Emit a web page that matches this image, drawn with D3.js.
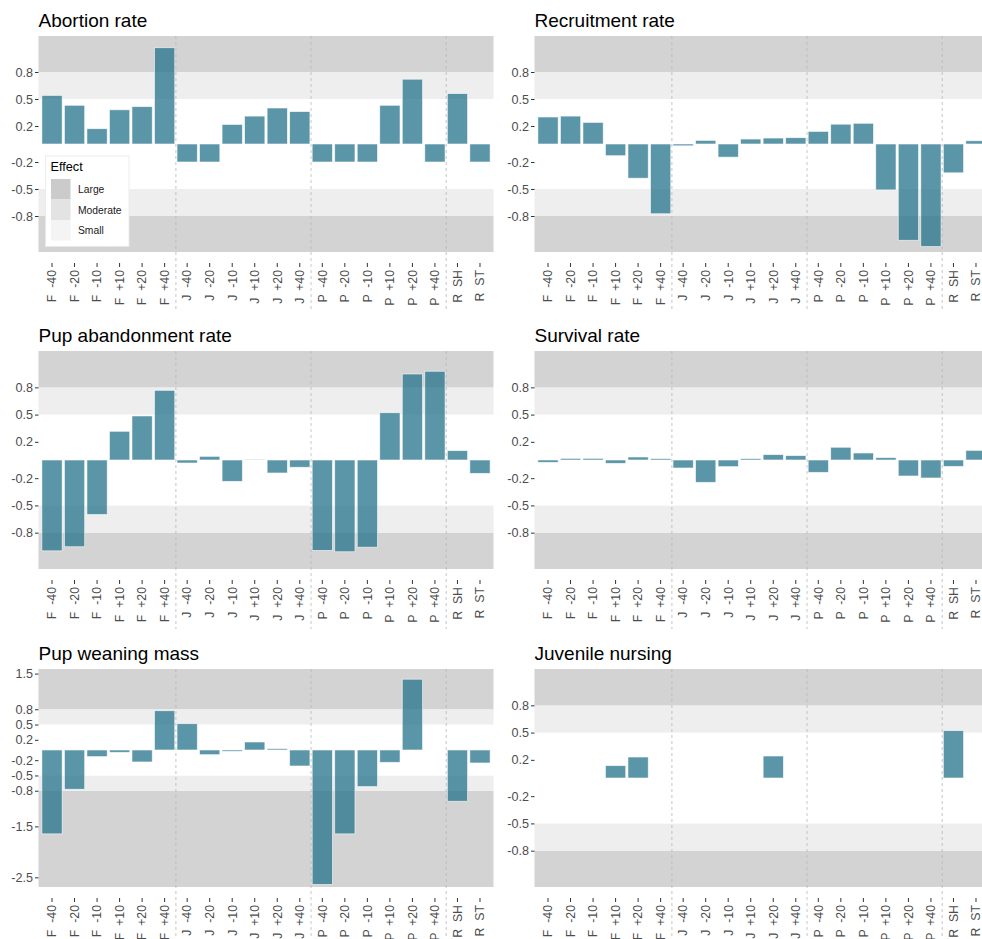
<!DOCTYPE html>
<html lang="en">
  <head>
    <meta charset="UTF-8" />
    <title>Effect sizes</title>
    <style>
        body { margin: 0; background: #fff; }
        svg { display: block; font-family: "Liberation Sans", Arial, sans-serif; }
        .yAxis line, .xAxis line { stroke: #333; }
        .title { font-size: 19px; fill: #000; }
    </style>
    <script src="https://d3js.org/d3.v7.min.js"></script>
  </head>
  <body>
    <div id="chart"></div>
    <script>
        // categories on the x axis
        const categories = ["F -40","F -20","F -10","F +10","F +20","F +40",
                            "J -40","J -20","J -10","J +10","J +20","J +40",
                            "P -40","P -20","P -10","P +10","P +20","P +40",
                            "R SH","R ST"];

        // values (null = no bar)
        const abortion    = [0.54, 0.43, 0.17, 0.38, 0.415, 1.07, -0.2, -0.2, 0.217, 0.31, 0.40, 0.36,
                             -0.2, -0.2, -0.2, 0.43, 0.72, -0.2, 0.56, -0.2];
        const recruitment = [0.30, 0.31, 0.24, -0.13, -0.38, -0.775, -0.02, 0.04, -0.146, 0.055, 0.066, 0.07,
                             0.14, 0.22, 0.23, -0.51, -1.07, -1.14, -0.32, 0.036];
        const abandonment = [-1.0, -0.955, -0.60, 0.316, 0.485, 0.767, -0.033, 0.04, -0.235, 0.004, -0.143, -0.08,
                             -0.995, -1.01, -0.96, 0.52, 0.947, 0.977, 0.103, -0.147];
        const survival    = [-0.026, 0.018, 0.018, -0.037, 0.033, 0.015, -0.088, -0.246, -0.073, 0.015, 0.059, 0.048,
                             -0.136, 0.14, 0.077, 0.026, -0.176, -0.198, -0.07, 0.106];
        const weaning     = [-1.647, -0.771, -0.13, -0.046, -0.235, 0.771, 0.516, -0.092, -0.026, 0.157, 0.026, -0.314,
                             -2.64, -1.647, -0.719, -0.242, 1.39, null, -1.007, -0.255];
        const nursing     = [null, null, null, 0.136, 0.231, null, null, null, null, null, 0.242, null,
                             null, null, null, null, null, null, 0.521, null];

        const titles = ["Abortion rate", "Recruitment rate", "Pup abandonment rate",
                        "Survival rate", "Pup weaning mass", "Juvenile nursing"];
        const series = [abortion, recruitment, abandonment, survival, weaning, nursing];

        const stdTicks = [-0.8, -0.5, -0.2, 0.2, 0.5, 0.8];
        const massTicks = [-2.5, -1.5, -0.8, -0.5, -0.2, 0.2, 0.5, 0.8, 1.5];
        const stdDomain = [-1.2, 1.2];
        const massDomain = [-2.69, 1.59];

        // effect bands: Large |d|>0.8, Moderate 0.5..0.8
        const effectNames = ["Large", "Moderate", "Small"];
        const effectFill = {Large: "#d3d3d3", Moderate: "#eeeeee", Small: "#ffffff"};
        const effectKey = {Large: "#cbcbcb", Moderate: "#e3e3e3", Small: "#f4f4f4"};

        const width = 982, height = 939;
        const colX = [38.5, 534.5];
        const panelW = 455;
        const rowY = [36, 351, 669];
        const rowH = [216, 218, 218];

        const svg = d3.select("#chart").append("svg")
            .attr("width", width).attr("height", height);

        series.forEach((vals, i) => {
            const col = i % 2, row = Math.floor(i / 2);
            const x0 = colX[col], y0 = rowY[row], h = rowH[row];
            const isMass = titles[i] === "Pup weaning mass";
            const dom = isMass ? massDomain : stdDomain;
            const ticks = isMass ? massTicks : stdTicks;

            const scaleX = d3.scaleBand().domain(categories)
                .range([x0, x0 + panelW]).paddingInner(0.1).paddingOuter(0.15);
            const scaleY = d3.scaleLinear().domain(dom).range([y0 + h, y0]);

            const g = svg.append("g");

            // bands
            const bands = [
                [dom[0], -0.8, "Large"], [-0.8, -0.5, "Moderate"], [-0.5, 0.5, "Small"],
                [0.5, 0.8, "Moderate"], [0.8, dom[1], "Large"]
            ];
            g.selectAll("rect.band").data(bands).join("rect")
                .attr("class", "band")
                .attr("x", x0).attr("width", panelW)
                .attr("y", d => scaleY(d[1]))
                .attr("height", d => scaleY(d[0]) - scaleY(d[1]))
                .attr("fill", d => effectFill[d[2]]);

            // bars
            const data = categories.map((c, k) => ({c: c, v: vals[k]})).filter(d => d.v !== null);
            g.selectAll("rect.bar").data(data).join("rect")
                .attr("class", "bar")
                .attr("x", d => scaleX(d.c))
                .attr("width", scaleX.bandwidth())
                .attr("y", d => scaleY(Math.max(0, d.v)))
                .attr("height", d => Math.abs(scaleY(d.v) - scaleY(0)))
                .attr("fill", "#24738b")
                .attr("fill-opacity", 0.75)
                .attr("stroke", "#ffffff")
                .attr("stroke-opacity", 0.7)
                .attr("stroke-width", 0.8);

            // group separators
            [5, 11, 17].forEach(k => {
                const xs = (scaleX(categories[k]) + scaleX.bandwidth() + scaleX(categories[k + 1])) / 2;
                g.append("line")
                    .attr("x1", xs).attr("x2", xs)
                    .attr("y1", y0).attr("y2", y0 + h + 60)
                    .attr("stroke", "#b8b8b8")
                    .attr("stroke-width", 0.8)
                    .attr("stroke-dasharray", "3,3");
            });

            // y axis
            const axisY = d3.axisLeft(scaleY).tickValues(ticks)
                .tickSize(3.5).tickPadding(2).tickFormat(d => d.toFixed(1));
            const gY = svg.append("g").attr("class", "yAxis")
                .attr("transform", `translate(${x0},0)`).call(axisY);
            gY.select(".domain").remove();
            gY.selectAll("text")
                .style("font-size", "12.6px")
                .style("fill", "#4d4d4d");

            // x axis
            const axisX = d3.axisBottom(scaleX).tickSize(4).tickSizeOuter(0);
            const gX = svg.append("g").attr("class", "xAxis")
                .attr("transform", `translate(0,${y0 + h + 11})`).call(axisX);
            gX.select(".domain").remove();
            gX.selectAll("text")
                .attr("transform", "rotate(-90)")
                .attr("x", -7).attr("y", 0).attr("dy", "0.35em")
                .attr("text-anchor", "end")
                .attr("xml:space", "preserve")
                .style("font-size", "12.3px")
                .style("fill", "#4d4d4d")
                .text(d => d.replace(" ", "  "));
            svg.selectAll(".xAxis, .yAxis").attr("font-family", null);

            // title
            svg.append("text").attr("class", "title")
                .attr("x", x0).attr("y", y0 - 9)
                .text(titles[i]);

            // legend in the first panel
            if (i === 0) {
                const lg = svg.append("g").attr("transform", "translate(45.5,156)");
                lg.append("rect").attr("width", 83.5).attr("height", 90.5)
                    .attr("fill", "#fff").attr("stroke", "#e8e8e8").attr("stroke-width", 0.8);
                lg.append("text").attr("x", 5).attr("y", 14.5)
                    .attr("font-size", "12.7px").attr("fill", "#000").text("Effect");
                effectNames.forEach((n, k) => {
                    lg.append("rect").attr("x", 5.5).attr("y", 23 + k * 20.5)
                        .attr("width", 19.5).attr("height", 20.5)
                        .attr("fill", effectKey[n]);
                    lg.append("text").attr("x", 32.5).attr("y", 33.5 + k * 20.5)
                        .attr("dy", "0.35em").attr("font-size", "10.3px")
                        .attr("fill", "#1a1a1a").text(n);
                });
            }
        });
    </script>
  </body>
</html>
